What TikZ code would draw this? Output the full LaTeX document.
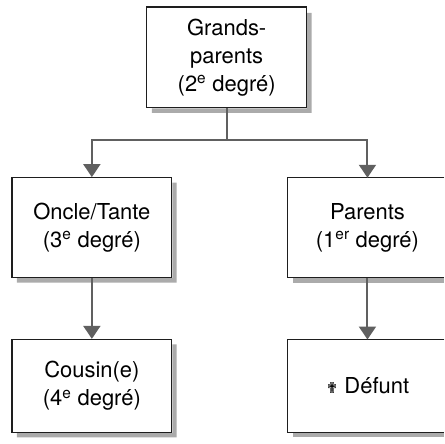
\documentclass[tikz,border=0pt]{standalone}
\usepackage{fontspec}
\setmainfont{TeX Gyre Heros}
\newfontfamily\symfont{DejaVu Sans}
\usetikzlibrary{arrows.meta}
\definecolor{linegray}{HTML}{606060}
\definecolor{boxline}{HTML}{1E1E1E}
\definecolor{shadowgray}{HTML}{ABABAB}
\begin{document}
\begin{tikzpicture}[x=1pt,y=1pt,
  famille/.style={draw=boxline,line width=1.3pt,fill=white,rectangle,
    minimum width=160pt,align=center,inner sep=0pt,
    font=\fontsize{22}{28}\selectfont},
  texte/.style={align=center,inner sep=0pt,font=\fontsize{22}{28}\selectfont},
  bord/.style={draw=boxline,line width=1.3pt},
  ombre/.style={fill=shadowgray,draw=none},
  lien/.style={draw=linegray,line width=2pt},
  fleche/.style={lien,-{Triangle[width=17pt,length=13pt]},color=linegray}]
\fill[white] (0,0) rectangle (445,444);
% boxes
\node[famille,minimum height=101pt] (gp) at (227,386.5) {Grands-\\parents\\(2\textsuperscript{e} degré)};
\node[famille,minimum height=100pt] (ot) at (92,216) {Oncle/Tante\\(3\textsuperscript{e} degré)};
\node[famille,minimum height=93pt] (co) at (92,57.5) {Cousin(e)\\(4\textsuperscript{e} degré)};
% right boxes run past the right edge of the picture
\draw[bord] (445,266) -- (288,266) -- (288,166) -- (445,166);
\draw[bord] (445,104) -- (288,104) -- (288,11) -- (445,11);
% drop shadows (L-shaped strips right and below each box)
\path[ombre] (307.65,431) -- (312,431) -- (312,331) -- (152,331) -- (152,335.35) -- (307.65,335.35) -- cycle;
\path[ombre] (172.65,261) -- (177,261) -- (177,161) -- (17,161) -- (17,165.35) -- (172.65,165.35) -- cycle;
\path[ombre] (172.65,99) -- (177,99) -- (177,6) -- (17,6) -- (17,10.35) -- (172.65,10.35) -- cycle;
\path[ombre] (293,161) rectangle (445,165.35);
\path[ombre] (293,6) rectangle (445,10.35);
\node[texte] (pa) at (368,216) {Parents\\(1\textsuperscript{er} degré)};
\node[texte] (de) at (368,57.5) {{\symfont\fontsize{15}{15}\selectfont ✟} Défunt};
\coordinate (paN) at (368,266);
\coordinate (paS) at (368,166);
\coordinate (deN) at (368,104);
% connectors
\coordinate (j) at (227,304);
\draw[lien] (gp.south) -- (j);
\draw[fleche] (j) -| (ot.north);
\draw[fleche] (j) -| (paN);
\draw[fleche] (ot.south) -- (co.north);
\draw[fleche] (paS) -- (deN);
\useasboundingbox (0,0) rectangle (445,444);
\end{tikzpicture}
\end{document}
